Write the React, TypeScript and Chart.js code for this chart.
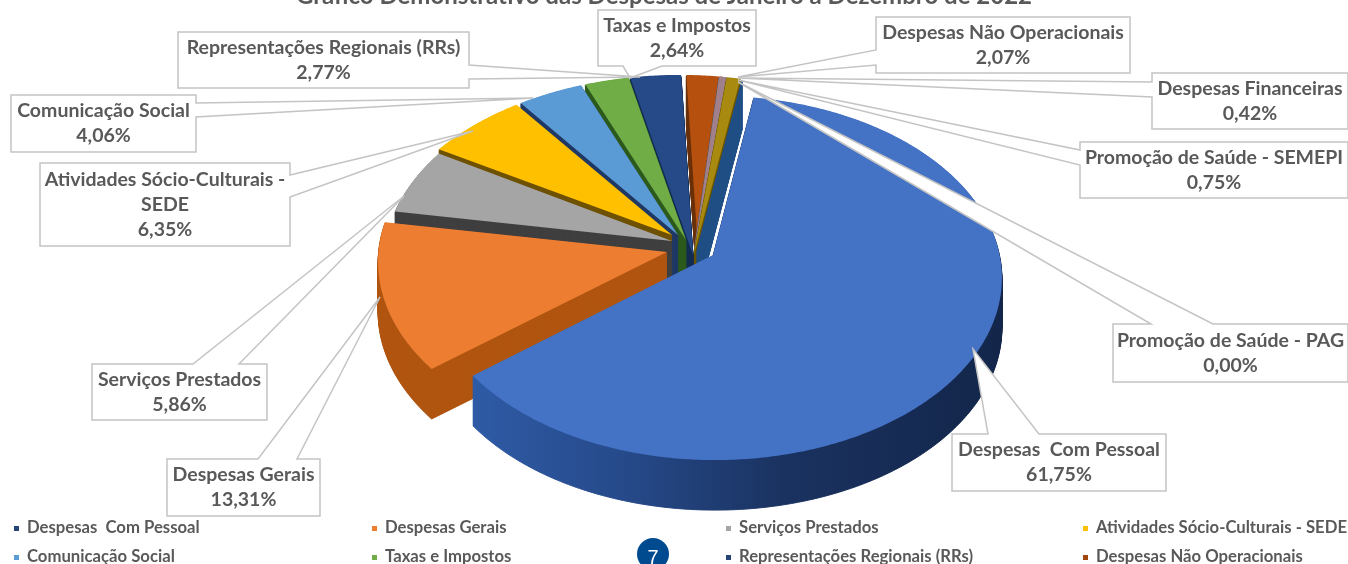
import React, { useEffect, useRef } from "react";
import { Chart, registerables } from "chart.js";

Chart.register(...registerables);

const categories = [
  "Despesas  Com Pessoal",
  "Despesas Gerais",
  "Serviços Prestados",
  "Atividades Sócio-Culturais - SEDE",
  "Comunicação Social",
  "Taxas e Impostos",
  "Representações Regionais (RRs)",
  "Despesas Não Operacionais",
  "Despesas Financeiras",
  "Promoção de Saúde - SEMEPI",
  "Promoção de Saúde - PAG",
];
const values = [61.75, 13.31, 5.86, 6.35, 4.06, 2.64, 2.77, 2.07, 0.42, 0.75, 0.0];
const topColors = ["#4472C4", "#ED7D31", "#A5A5A5", "#FFC000", "#5B9BD5", "#70AD47", "#264A87", "#B5500F", "#A0808A", "#A88A10", "#255E91"];
const wallColors = ["#1F3B73", "#B05510", "#3F3F3F", "#6E5200", "#1F3864", "#2C5A1C", "#122C52", "#6A300A", "#555555", "#6A5400", "#1F4E86"];
const legendItems = [0, 1, 2, 3, 4, 5, 6, 7];
const legendColors = ["#264478", "#ED7D31", "#A5A5A5", "#FFC000", "#5B9BD5", "#70AD47", "#264478", "#9E480E"];
const titleText = "Gráfico Demonstrativo das Despesas de Janeiro à Dezembro de 2022";

// per-slice perspective and explosion, as offsets from the chart centre
const sliceFrame = [
  { ax: 33, ay: -7, ex: 35, ey: 16, sx: 1.095, sy: 0.695 },
  { ax: -13, ay: -10, ex: -4, ey: 0, sx: 1.137, sy: 0.714 },
  { ax: -8, ay: -21, ex: 0, ey: 0, sx: 1.13, sy: 0.714 },
  { ax: -8, ay: -27, ex: 0, ey: 0, sx: 1.153, sy: 0.714 },
  { ax: -2, ay: -27, ex: 0, ey: 0, sx: 1.153, sy: 0.714 },
  { ax: 6, ay: -22, ex: 0, ey: 0, sx: 1.153, sy: 0.714 },
  { ax: 13, ay: -7, ex: 0, ey: 0, sx: 1.153, sy: 0.714 },
  { ax: 18, ay: -12, ex: 0, ey: 0, sx: 1.153, sy: 0.714 },
  { ax: 13, ay: -4, ex: 0, ey: 0, sx: 1.153, sy: 0.714 },
  { ax: 13, ay: -4, ex: 0, ey: 0, sx: 1.153, sy: 0.714 },
  { ax: 17, ay: -12, ex: 0, ey: 0, sx: 1.153, sy: 0.714 },
];
const paintOrder = [7, 8, 9, 10, 6, 5, 4, 3, 2, 1, 0];
const DEPTH = 50;

// callout frames: box and tail wedge
const callouts = [
  { i: 9, box: [1080, 142, 268, 56], side: "left", tail: [150, 165], tip: [738, 80] },
  { i: 10, box: [1113, 324, 235, 58], side: "top", tail: [1151, 1213], tip: [738, 82] },
  { i: 8, box: [1152, 73, 196, 56], side: "left", tail: [82, 97], tip: [738, 78] },
  { i: 7, box: [876, 17, 254, 56], side: "left", tail: [50, 65], tip: [738, 77] },
  { i: 5, box: [598, 10, 158, 56], side: "bottom", tail: [623, 662], tip: [630, 78] },
  { i: 6, box: [178, 32, 291, 56], side: "right", tail: [65, 79], tip: [640, 77] },
  { i: 4, box: [11, 95, 185, 57], side: "right", tail: [103, 117], tip: [533, 98] },
  { i: 3, box: [40, 163, 250, 83], side: "right", tail: [175, 197], tip: [473, 131] },
  { i: 2, box: [92, 364, 175, 56], side: "top", tail: [193, 239], tip: [404, 196] },
  { i: 1, box: [167, 459, 153, 57], side: "top", tail: [258, 297], tip: [380, 297] },
  { i: 0, box: [952, 434, 214, 57], side: "top", tail: [988, 1039], tip: [973, 349] },
];
const splitLabels: Record<number, string[]> = { 3: ["Atividades Sócio-Culturais -", "SEDE"] };
const legendCols = [16, 374, 728, 1085];
const legendRows = [528, 557];

const FONT = "Lato, 'Noto Sans', sans-serif";

function rimPoint(f: any, cx: number, cy: number, R: number, phi: number) {
  const px = cx + f.ax, py = cy + f.ay;
  const ecx = cx + f.ex, ecy = cy + f.ey;
  const a = R * f.sx, b = R * f.sy;
  const dx = a * Math.cos(phi), dy = b * Math.sin(phi);
  const ox = (px - ecx) / a, oy = (py - ecy) / b, ux = dx / a, uy = dy / b;
  const A = ux * ux + uy * uy, B = 2 * (ox * ux + oy * uy), C = ox * ox + oy * oy - 1;
  const t = (-B + Math.sqrt(B * B - 4 * A * C)) / (2 * A);
  return [px + t * dx, py + t * dy];
}

function slicePath(ctx: CanvasRenderingContext2D, arc: any, f: any, shift: number) {
  ctx.beginPath();
  ctx.moveTo(arc.x + f.ax, arc.y + f.ay + shift);
  const s = arc.startAngle, e = arc.endAngle;
  const steps = Math.max(1, Math.ceil((e - s) / 0.01));
  for (let k = 0; k <= steps; k++) {
    const p = rimPoint(f, arc.x, arc.y, arc.outerRadius, s + ((e - s) * k) / steps);
    ctx.lineTo(p[0], p[1] + shift);
  }
  ctx.closePath();
}

const pie3d = {
  id: "pie3d",
  beforeDatasetsDraw(chart: any) {
    const ctx: CanvasRenderingContext2D = chart.ctx;
    const arcs = chart.getDatasetMeta(0).data;
    for (const i of paintOrder) {
      const arc = arcs[i];
      const f = sliceFrame[i];
      let wall: any = wallColors[i];
      if (i === 0) {
        const g = ctx.createLinearGradient(arc.x - 220, 0, arc.x + 320, 0);
        g.addColorStop(0, "#2F5CA8");
        g.addColorStop(0.3, "#264A8A");
        g.addColorStop(0.6, "#1A3260");
        g.addColorStop(1, "#13264A");
        wall = g;
      }
      ctx.save();
      ctx.fillStyle = wall;
      ctx.strokeStyle = wall;
      ctx.lineWidth = 1;
      for (let k = DEPTH; k >= 1; k -= 1) {
        slicePath(ctx, arc, f, k);
        ctx.fill();
        ctx.stroke();
      }
      slicePath(ctx, arc, f, 0);
      ctx.fillStyle = arc.options.backgroundColor;
      ctx.fill();
      ctx.restore();
    }
    return false;
  },
  afterDraw(chart: any) {
    const ctx: CanvasRenderingContext2D = chart.ctx;
    ctx.save();
    // title, cut by the top of the picture
    ctx.fillStyle = "#595959";
    ctx.font = `bold 24px ${FONT}`;
    ctx.textAlign = "center";
    ctx.textBaseline = "alphabetic";
    ctx.fillText(titleText, 664, 4);

    for (const c of callouts) {
      const [x, y, w, h] = c.box;
      const r = x + w, b = y + h;
      ctx.beginPath();
      ctx.moveTo(x, y);
      if (c.side === "top") {
        ctx.lineTo(c.tail[0], y);
        ctx.lineTo(c.tip[0], c.tip[1]);
        ctx.lineTo(c.tail[1], y);
      }
      ctx.lineTo(r, y);
      if (c.side === "right") {
        ctx.lineTo(r, c.tail[0]);
        ctx.lineTo(c.tip[0], c.tip[1]);
        ctx.lineTo(r, c.tail[1]);
      }
      ctx.lineTo(r, b);
      if (c.side === "bottom") {
        ctx.lineTo(c.tail[1], b);
        ctx.lineTo(c.tip[0], c.tip[1]);
        ctx.lineTo(c.tail[0], b);
      }
      ctx.lineTo(x, b);
      if (c.side === "left") {
        ctx.lineTo(x, c.tail[1]);
        ctx.lineTo(c.tip[0], c.tip[1]);
        ctx.lineTo(x, c.tail[0]);
      }
      ctx.closePath();
      ctx.fillStyle = "#FFFFFF";
      ctx.fill();
      ctx.strokeStyle = "#C4C4C4";
      ctx.lineWidth = 1.5;
      ctx.stroke();

      const lines = [...(splitLabels[c.i] || [categories[c.i]]), values[c.i].toFixed(2).replace(".", ",") + "%"];
      const cx = x + w / 2;
      const lh = 25;
      const top = y + h / 2 - ((lines.length - 1) * lh) / 2;
      ctx.fillStyle = "#595959";
      ctx.font = `bold 19.5px ${FONT}`;
      ctx.textAlign = "center";
      ctx.textBaseline = "middle";
      lines.forEach((t, n) => ctx.fillText(t, cx, top + n * lh));
    }

    // legend
    ctx.font = `bold 16.7px ${FONT}`;
    ctx.textAlign = "left";
    ctx.textBaseline = "middle";
    legendItems.forEach((item, n) => {
      const x = legendCols[n % 4], y = legendRows[Math.floor(n / 4)];
      ctx.fillStyle = legendColors[n];
      ctx.fillRect(x - 2, y - 2, 5, 5);
      ctx.fillStyle = "#595959";
      ctx.fillText(categories[item], x + 11, y);
    });

    // page number badge
    ctx.beginPath();
    ctx.arc(653, 554, 16, 0, Math.PI * 2);
    ctx.fillStyle = "#004A8F";
    ctx.fill();
    ctx.fillStyle = "#FFFFFF";
    ctx.font = "20px 'Liberation Sans', sans-serif";
    ctx.textAlign = "center";
    ctx.fillText("7", 653, 558);
    ctx.restore();
  },
};

export default function App() {
  const ref = useRef<HTMLCanvasElement>(null);
  useEffect(() => {
    const chart = new Chart(ref.current as HTMLCanvasElement, {
      type: "pie",
      data: {
        labels: categories,
        datasets: [{ data: values, backgroundColor: topColors, borderWidth: 0 }],
      },
      options: {
        responsive: false,
        animation: false,
        rotation: 9.3,
        layout: { padding: { left: 12, right: 0, top: 0, bottom: 40 } },
        plugins: { legend: { display: false }, tooltip: { enabled: false }, title: { display: false } },
      },
      plugins: [pie3d],
    } as any);
    return () => chart.destroy();
  }, []);
  return (
    <div style={{ position: "fixed", left: 0, top: 0, width: 1348, height: 564, background: "#fff", overflow: "hidden" }}>
      <canvas ref={ref} width={1348} height={564} style={{ display: "block" }} />
    </div>
  );
}
